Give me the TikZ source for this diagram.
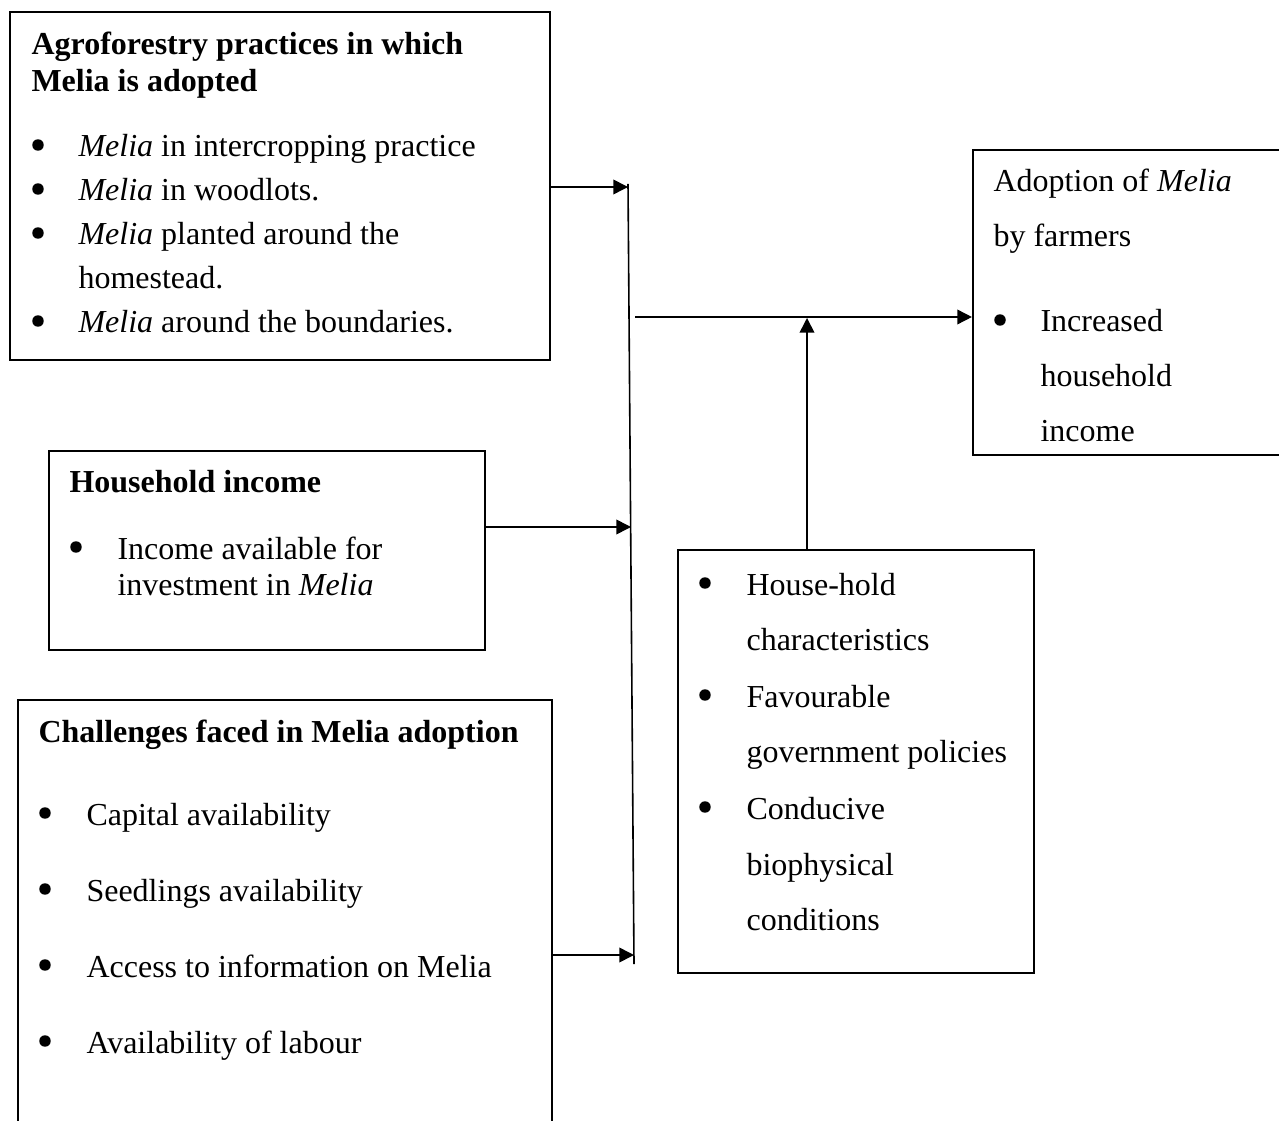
\documentclass[tikz,border=0pt]{standalone}
\usepackage{fontspec}
\setmainfont{Liberation Serif}
\usetikzlibrary{arrows.meta,fit}

\begin{document}
\begin{tikzpicture}[x=0.375pt,y=-0.375pt,>={Triangle[length=5.5pt,width=5.5pt]},
 box/.style={draw,line width=0.8pt,inner sep=0pt},
 txt/.style={anchor=base west,inner sep=0pt,font=\fontsize{12}{14}\selectfont},
 hd/.style={txt,font=\fontsize{12}{14}\selectfont\bfseries},
 dot/.style={circle,fill,inner sep=0pt,minimum size=4.3pt},
 arr/.style={->,line width=0.6pt}]
\clip (0,0) rectangle (1279,1121);
% boxes
\node[box,fit={(10,12) (550,360)}] (agro) {};
\node[box,fit={(49,451) (485,650)}] (income) {};
\node[box,fit={(18,700) (552,1140)}] (chal) {};
\node[box,fit={(973,150) (1290,455)}] (adopt) {};
\node[box,fit={(678,550) (1034,973)}] (factors) {};
% agroforestry practices
\node[hd] at (31,55) {Agroforestry practices in which};
\node[hd] at (31,92) {Melia is adopted};
\foreach \y/\t in {157/{\textit{Melia} in intercropping practice},
  201/{\textit{Melia} in woodlots.},245/{\textit{Melia} planted around the},
  333/{\textit{Melia} around the boundaries.}}
  {\node[dot] at (38,\y-12) {}; \node[txt] at (78,\y) {\t};}
\node[txt] at (78,289) {homestead.};
% household income
\node[hd] at (69,493) {Household income};
\node[dot] at (76,547) {};
\node[txt] at (117,559) {Income available for};
\node[txt] at (117,595) {investment in \textit{Melia}};
% challenges
\node[hd] at (38,742) {Challenges faced in Melia adoption};
\foreach \y/\t in {825/Capital availability,901/Seedlings availability,
  977/Access to information on Melia,1053/Availability of labour}
  {\node[dot] at (45,\y-12) {}; \node[txt] at (86,\y) {\t};}
% adoption
\node[txt] at (993,192) {Adoption of \textit{Melia}};
\node[txt] at (993,247) {by farmers};
\node[dot] at (1000,320) {};
\foreach \y/\t in {332/Increased,387/household,442/income}
  \node[txt] at (1040,\y) {\t};
% factors
\foreach \y in {595,707,819}
  \node[dot] at (705,\y-12) {};
\foreach \y/\t in {595/House-hold,650/characteristics,707/Favourable,
  762/government policies,819/Conducive,875/biophysical,930/conditions}
  \node[txt] at (746,\y) {\t};
% connectors
\coordinate (busTop) at (628,184);
\coordinate (busBot) at (634,964);
\draw[line width=0.6pt] (busTop) -- (busBot);
\coordinate (jA) at (628,187);
\coordinate (jB) at (631,527);
\coordinate (jC) at (634,955);
\draw[arr] (agro.east |- jA) -- (jA);
\draw[arr] (income.east |- jB) -- (jB);
\draw[arr] (chal.east |- jC) -- (jC);
\coordinate (jOut) at (635,317);
\draw[arr] (jOut) -- (jOut -| adopt.west);
\coordinate (jUp) at (807,318);
\draw[arr] (factors.north -| jUp) -- (jUp);
\end{tikzpicture}
\end{document}
